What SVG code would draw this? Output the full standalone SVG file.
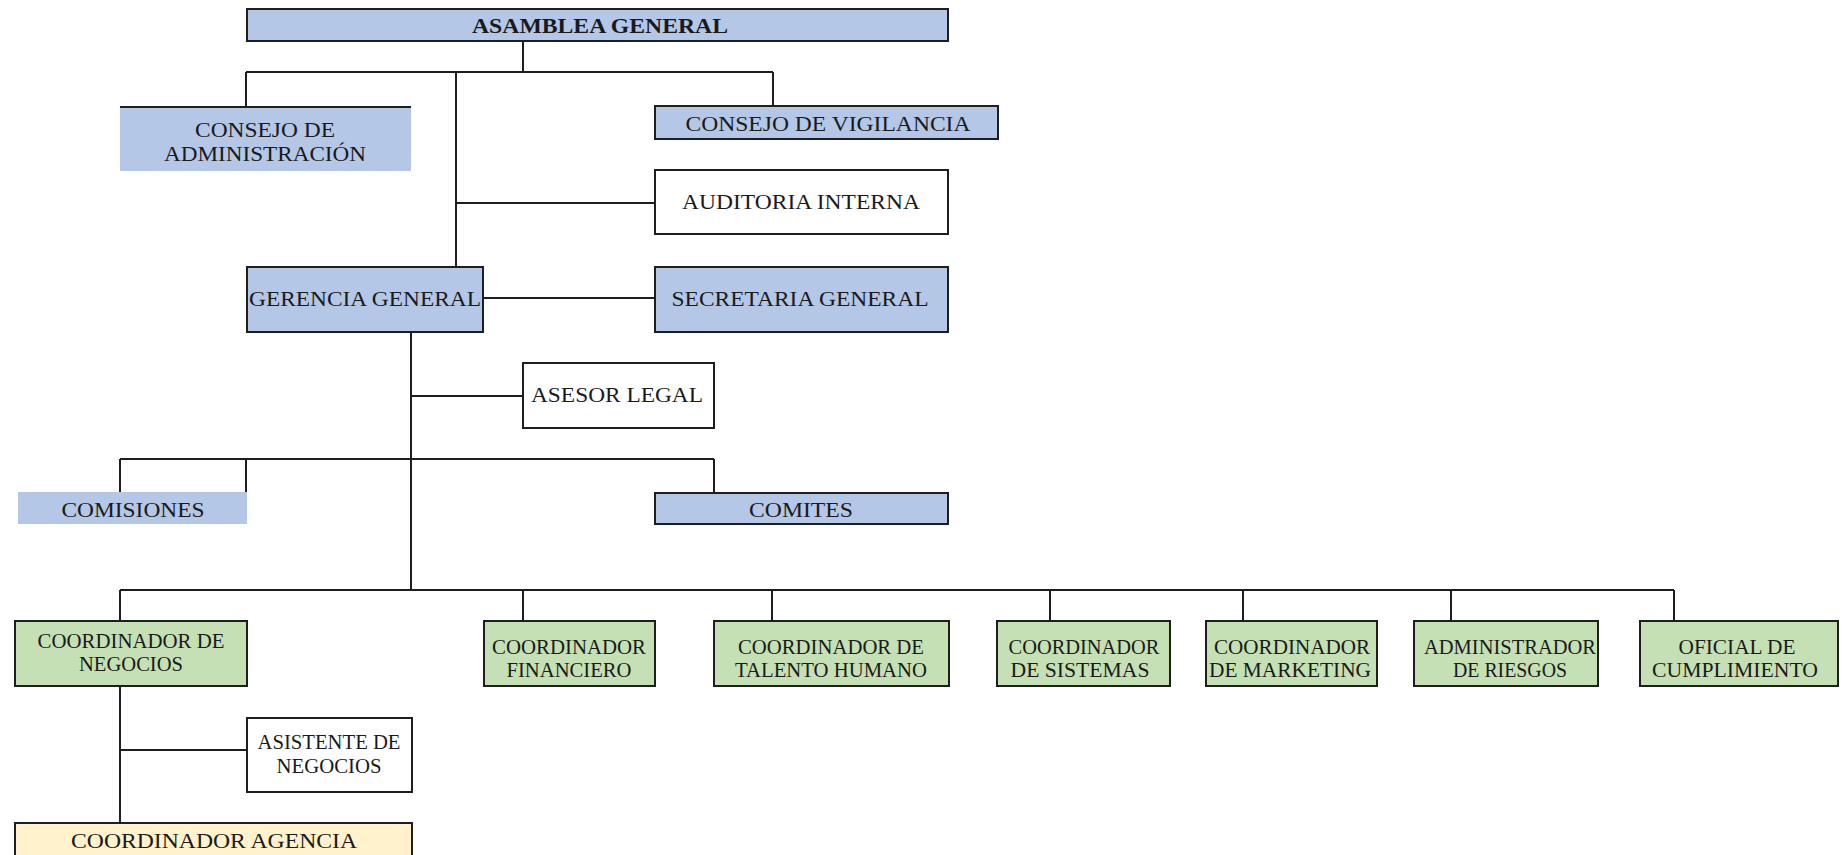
<svg xmlns="http://www.w3.org/2000/svg" width="1842" height="855" viewBox="0 0 1842 855">
<style>
.bx{stroke:#1e1e1e;stroke-width:2}
.blue{fill:#B4C7E7}
.green{fill:#C5E0B4}
.white{fill:#ffffff}
.yellow{fill:#FFF2CC}
.t{font-family:"Liberation Serif","Times New Roman",serif;font-size:20px;fill:#1a1a1a;text-anchor:middle}
.b{font-weight:bold}
.c{stroke:#1e1e1e;stroke-width:2;fill:none}
</style>
<rect width="1842" height="855" fill="#ffffff"/>
<g id="connectors">
<path class="c" d="M523 41V72M246 72H773M246 72V106M773 72V106M456 72V267M456 203H655M483 298H655M411 332V590M411 396H523M120 459H714M120 459V492M246 459V492M714 459V493M120 590H1674M120 590V621M523 590V621M772 590V621M1050 590V621M1243 590V621M1451 590V621M1674 590V621M120 686V823M120 750H247"/>
</g>
<g id="asamblea">
<rect class="bx blue" x="247" y="9" width="701" height="32"/>
<text class="t b" x="600" y="33" textLength="256" lengthAdjust="spacingAndGlyphs">ASAMBLEA GENERAL</text>
</g>
<g id="consejo-admin">
<rect class="blue" x="120" y="106" width="291" height="65"/>
<line class="c" x1="120" y1="107" x2="411" y2="107"/>
<text class="t" x="265" y="137" textLength="140" lengthAdjust="spacingAndGlyphs">CONSEJO DE</text>
<text class="t" x="265" y="161" textLength="202" lengthAdjust="spacingAndGlyphs">ADMINISTRACIÓN</text>
</g>
<g id="consejo-vigilancia">
<rect class="bx blue" x="655" y="106" width="343" height="33"/>
<text class="t" x="828" y="131" textLength="285" lengthAdjust="spacingAndGlyphs">CONSEJO DE VIGILANCIA</text>
</g>
<g id="auditoria">
<rect class="bx white" x="655" y="170" width="293" height="64"/>
<text class="t" x="801" y="209" textLength="238" lengthAdjust="spacingAndGlyphs">AUDITORIA INTERNA</text>
</g>
<g id="gerencia">
<rect class="bx blue" x="247" y="267" width="236" height="65"/>
<text class="t" x="365" y="306" textLength="232" lengthAdjust="spacingAndGlyphs">GERENCIA GENERAL</text>
</g>
<g id="secretaria">
<rect class="bx blue" x="655" y="267" width="293" height="65"/>
<text class="t" x="800" y="306" textLength="257" lengthAdjust="spacingAndGlyphs">SECRETARIA GENERAL</text>
</g>
<g id="asesor">
<rect class="bx white" x="523" y="363" width="191" height="65"/>
<text class="t" x="617" y="402" textLength="172" lengthAdjust="spacingAndGlyphs">ASESOR LEGAL</text>
</g>
<g id="comisiones">
<rect class="blue" x="18" y="492" width="229" height="32"/>
<text class="t" x="133" y="517" textLength="143" lengthAdjust="spacingAndGlyphs">COMISIONES</text>
</g>
<g id="comites">
<rect class="bx blue" x="655" y="493" width="293" height="31"/>
<text class="t" x="801" y="517" textLength="104" lengthAdjust="spacingAndGlyphs">COMITES</text>
</g>
<g id="coord-negocios">
<rect class="bx green" x="15" y="621" width="232" height="65"/>
<text class="t" x="131" y="648" textLength="187" lengthAdjust="spacingAndGlyphs">COORDINADOR DE</text>
<text class="t" x="131" y="671" textLength="104" lengthAdjust="spacingAndGlyphs">NEGOCIOS</text>
</g>
<g id="coord-financiero">
<rect class="bx green" x="484" y="621" width="171" height="65"/>
<text class="t" x="569" y="654" textLength="154" lengthAdjust="spacingAndGlyphs">COORDINADOR</text>
<text class="t" x="569" y="677" textLength="125" lengthAdjust="spacingAndGlyphs">FINANCIERO</text>
</g>
<g id="coord-talento">
<rect class="bx green" x="714" y="621" width="235" height="65"/>
<text class="t" x="831" y="654" textLength="186" lengthAdjust="spacingAndGlyphs">COORDINADOR DE</text>
<text class="t" x="831" y="677" textLength="192" lengthAdjust="spacingAndGlyphs">TALENTO HUMANO</text>
</g>
<g id="coord-sistemas">
<rect class="bx green" x="997" y="621" width="173" height="65"/>
<text class="t" x="1084" y="654" textLength="151" lengthAdjust="spacingAndGlyphs">COORDINADOR</text>
<text class="t" x="1080" y="677" textLength="139" lengthAdjust="spacingAndGlyphs">DE SISTEMAS</text>
</g>
<g id="coord-marketing">
<rect class="bx green" x="1206" y="621" width="171" height="65"/>
<text class="t" x="1292" y="654" textLength="156" lengthAdjust="spacingAndGlyphs">COORDINADOR</text>
<text class="t" x="1290" y="677" textLength="162" lengthAdjust="spacingAndGlyphs">DE MARKETING</text>
</g>
<g id="admin-riesgos">
<rect class="bx green" x="1414" y="621" width="184" height="65"/>
<text class="t" x="1510" y="654" textLength="172" lengthAdjust="spacingAndGlyphs">ADMINISTRADOR</text>
<text class="t" x="1510" y="677" textLength="114" lengthAdjust="spacingAndGlyphs">DE RIESGOS</text>
</g>
<g id="oficial">
<rect class="bx green" x="1640" y="621" width="198" height="65"/>
<text class="t" x="1737" y="654" textLength="117" lengthAdjust="spacingAndGlyphs">OFICIAL DE</text>
<text class="t" x="1735" y="677" textLength="166" lengthAdjust="spacingAndGlyphs">CUMPLIMIENTO</text>
</g>
<g id="asistente">
<rect class="bx white" x="247" y="718" width="165" height="74"/>
<text class="t" x="329" y="749" textLength="143" lengthAdjust="spacingAndGlyphs">ASISTENTE DE</text>
<text class="t" x="329" y="773" textLength="105" lengthAdjust="spacingAndGlyphs">NEGOCIOS</text>
</g>
<g id="coord-agencia">
<rect class="bx yellow" x="15" y="823" width="397" height="40"/>
<text class="t" x="214" y="848" textLength="286" lengthAdjust="spacingAndGlyphs">COORDINADOR AGENCIA</text>
</g>
</svg>
